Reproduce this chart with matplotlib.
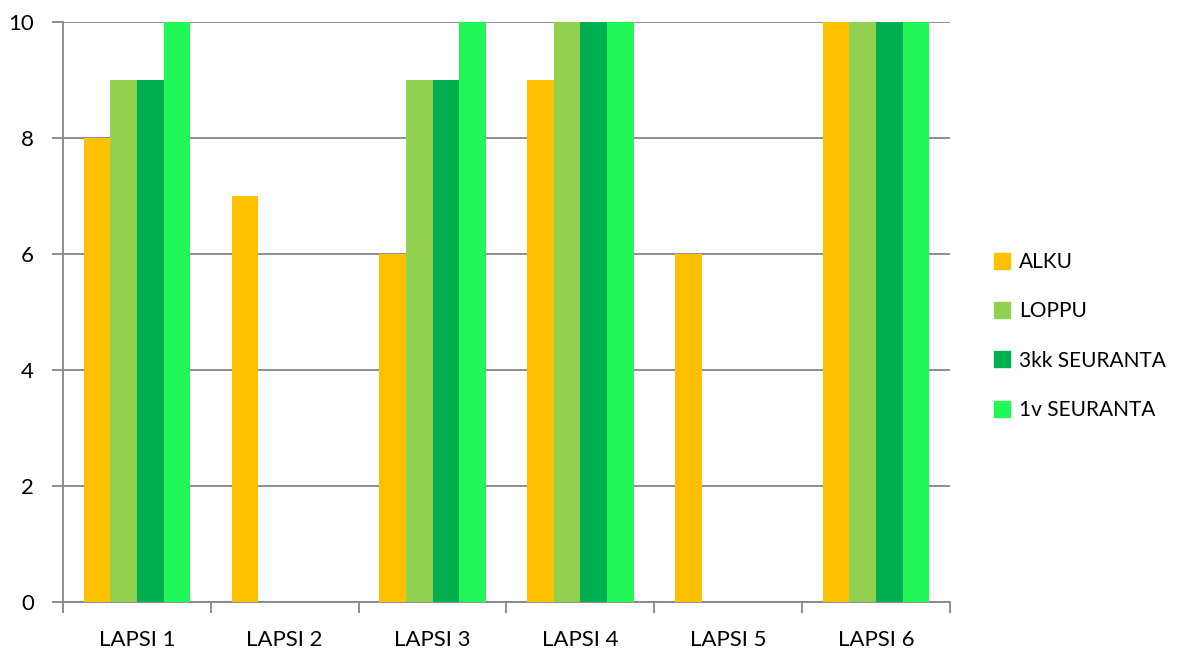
import numpy as np
import matplotlib.pyplot as plt
from matplotlib.patches import Patch

plt.rcParams['font.family'] = ['Lato', 'DejaVu Sans']

children = ["LAPSI 1", "LAPSI 2", "LAPSI 3", "LAPSI 4", "LAPSI 5", "LAPSI 6"]
series = ["ALKU", "LOPPU", "3kk SEURANTA", "1v SEURANTA"]
alku = [8, 7, 6, 9, 6, 10]
loppu = [9, 0, 9, 10, 0, 10]
seuranta_3kk = [9, 0, 9, 10, 0, 10]
seuranta_1v = [10, 0, 10, 10, 0, 10]
colors = ["#FFC000", "#92D050", "#00B050", "#22F758"]

values = [alku, loppu, seuranta_3kk, seuranta_1v]

fig = plt.figure(figsize=(11.83, 6.5), dpi=100)
ax = fig.add_axes([63/1183, 48/650, 887/1183, 580/650])

x = np.arange(len(children))
w = 0.18
for i, (vals, c) in enumerate(zip(values, colors)):
    ax.bar(x + (i - 1.5)*w, vals, width=w, color=c, zorder=3)

ax.set_xlim(-0.5, len(children) - 0.5)
ax.set_ylim(0, 10)
ax.set_yticks(range(0, 11, 2))
ax.yaxis.grid(True, color="#868686", linewidth=1.3, zorder=0)

gray = "#868686"
for s in ["top", "right"]:
    ax.spines[s].set_visible(False)
ax.spines["left"].set_color(gray)
ax.spines["bottom"].set_color(gray)
ax.spines["left"].set_linewidth(1.3)
ax.spines["bottom"].set_linewidth(1.3)

ax.set_xticks(np.arange(-0.5, len(children), 1))
ax.set_xticklabels([])
ax.set_xticks(x, minor=True)
ax.set_xticklabels(children, minor=True)
ax.tick_params(axis="x", which="major", length=8, width=1.3, color=gray)
ax.tick_params(axis="x", which="minor", length=0, pad=20, labelsize=16)
ax.tick_params(axis="y", length=8, width=1.3, color=gray, labelsize=16, pad=13)

handles = [Patch(color=c, label=s) for s, c in zip(series, colors)]
fig.legend(handles=handles, loc="center left", bbox_to_anchor=(975/1183, 0.483),
           frameon=False, fontsize=15, labelspacing=1.4, handlelength=0.8,
           handleheight=0.8, handletextpad=0.4)

fig.savefig("out.png", dpi=100)
